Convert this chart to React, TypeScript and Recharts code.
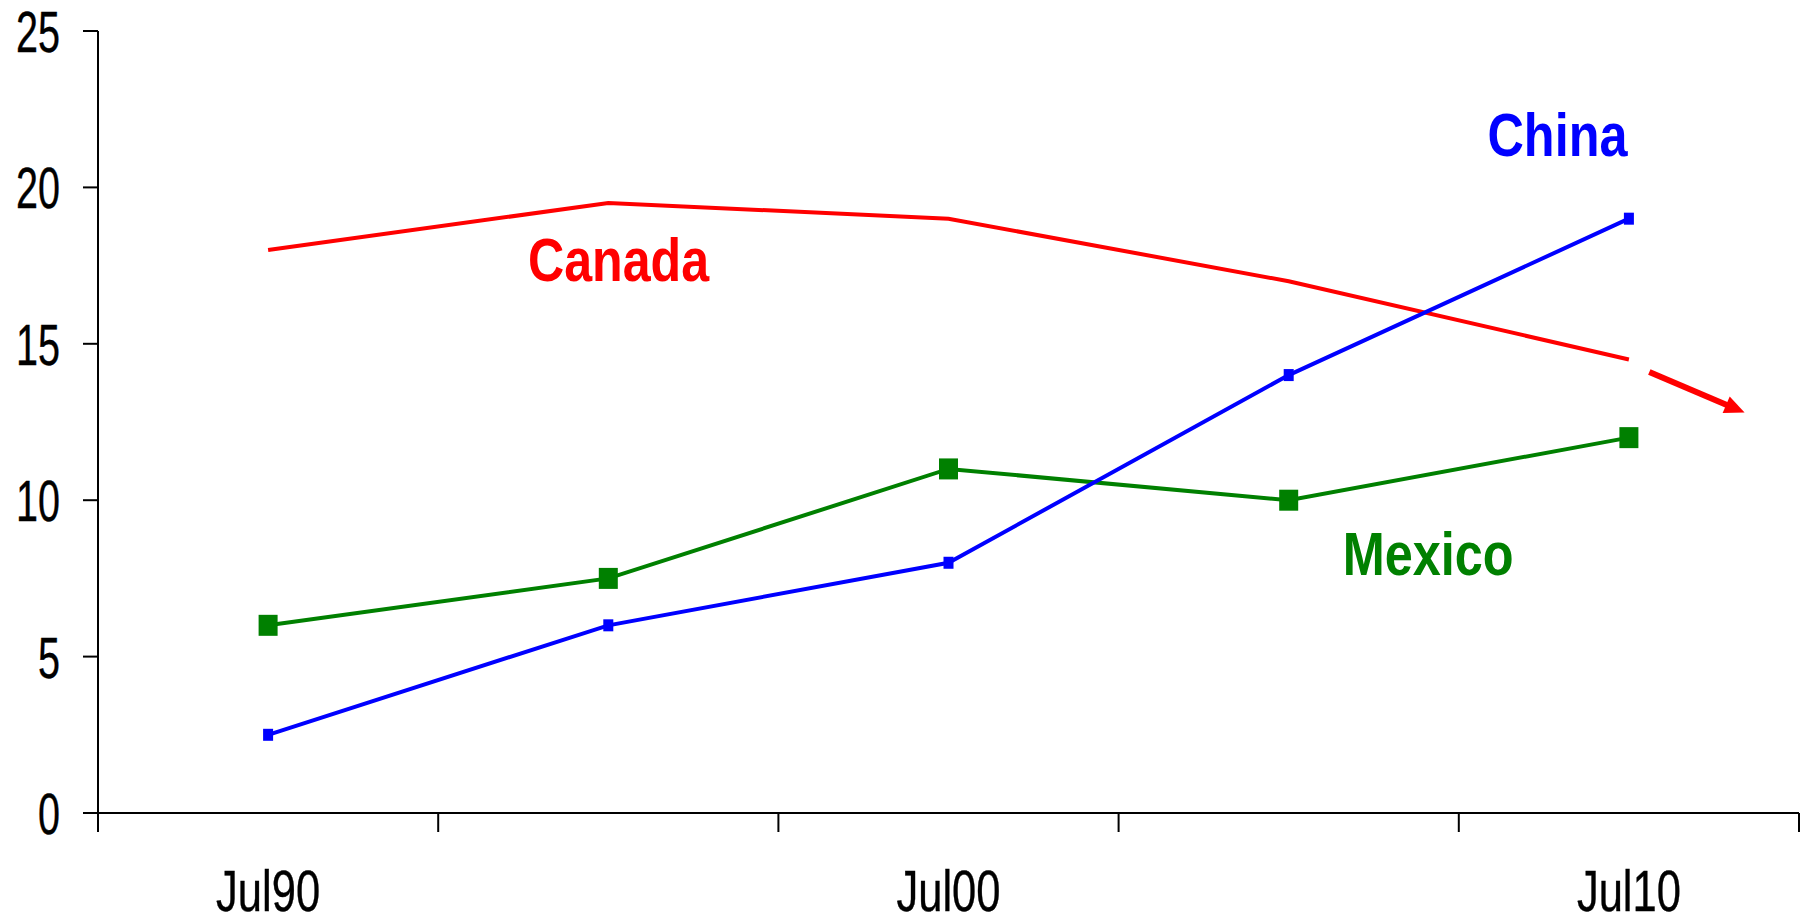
import { LineChart, Line, XAxis, YAxis, ReferenceDot, ReferenceLine } from "recharts";

// Import share by country, sampled every five years
const periods = ["Jul90", "Jul95", "Jul00", "Jul05", "Jul10"];
const canada = [18, 19.5, 19, 17, 14.5];
const china = [2.5, 6, 8, 14, 19];
const mexico = [6, 7.5, 11, 10, 12];

const yTicks = [0, 5, 10, 15, 20, 25];
const shownPeriods = ["Jul90", "Jul00", "Jul10"];

// Canada's projected decline, drawn as an arrow past the last point
const canadaTrendStart = { x: 4.06, y: 14.1 };
const canadaTrendEnd = { x: 4.34, y: 12.8 };

const RED = "#ff0000";
const BLUE = "#0000ff";
const GREEN = "#008000";
const TICK_FONT = "'Liberation Sans Narrow', 'Liberation Sans', Arial, sans-serif";
const LABEL_FONT = "'Liberation Sans', Arial, sans-serif";

const data = periods.map((p, i) => ({
  idx: i,
  period: p,
  canada: canada[i],
  china: china[i],
  mexico: mexico[i],
}));

// boundaries between periods get tick marks, the labelled periods get text
const boundaries = periods.map((_, i) => i - 0.5).concat(periods.length - 0.5);
const labelIdx = shownPeriods.map((p) => periods.indexOf(p));
const xTicks = [...boundaries, ...labelIdx].sort((a, b) => a - b);

const seriesLabels = [
  { text: "China", x: 3.79, y: 21.7, color: BLUE, width: 140 },
  { text: "Canada", x: 1.03, y: 17.7, color: RED, width: 181 },
  { text: "Mexico", x: 3.41, y: 8.3, color: GREEN, width: 171 },
];

function XTick(props: any) {
  const { x, y, payload } = props;
  const v = payload.value;
  if (!Number.isInteger(v)) {
    return <line x1={x} x2={x} y1={y} y2={y + 19} stroke="#000" strokeWidth={2} />;
  }
  const label = periods[v];
  return (
    <text
      x={x}
      y={y + 98}
      textAnchor="middle"
      fontFamily={TICK_FONT}
      fontSize={57}
      fill="#000"
      stroke="#000"
      strokeWidth={0.4}
      textLength={104}
      lengthAdjust="spacingAndGlyphs"
    >
      {label}
    </text>
  );
}

function YTick(props: any) {
  const { x, y, payload } = props;
  const s = String(payload.value);
  return (
    <g>
      <line x1={x - 15} x2={x} y1={y} y2={y} stroke="#000" strokeWidth={2} />
      <text
        x={x - 38}
        y={y + 21}
        textAnchor="end"
        fontFamily={TICK_FONT}
        fontSize={58}
        fill="#000"
        stroke="#000"
        strokeWidth={0.4}
        textLength={22 * s.length}
        lengthAdjust="spacingAndGlyphs"
      >
        {s}
      </text>
    </g>
  );
}

const squareDot = (w: number, h: number, color: string) => (p: any) => (
  <rect key={`d-${p.index}`} x={p.cx - w / 2} y={p.cy - h / 2} width={w} height={h} fill={color} />
);

function TrendArrow(p: any) {
  const { x1, y1, x2, y2 } = p;
  const dx = x2 - x1;
  const dy = y2 - y1;
  const len = Math.sqrt(dx * dx + dy * dy);
  const ux = dx / len;
  const uy = dy / len;
  const head = 20;
  const half = 9;
  const bx = x2 - ux * head;
  const by = y2 - uy * head;
  return (
    <g>
      <line x1={x1} y1={y1} x2={bx + ux * 2} y2={by + uy * 2} stroke={RED} strokeWidth={6} />
      <polygon
        points={`${x2},${y2} ${bx - uy * half},${by + ux * half} ${bx + uy * half},${by - ux * half}`}
        fill={RED}
      />
    </g>
  );
}

export default function App() {
  return (
    <div style={{ position: "absolute", left: 0, top: 0, background: "#fff" }}>
      <LineChart width={1808} height={921} data={data} margin={{ top: 31, right: 9, bottom: 0, left: 0 }}>
        <XAxis
          type="number"
          dataKey="idx"
          domain={[-0.5, periods.length - 0.5]}
          ticks={xTicks}
          interval={0}
          height={108}
          tickSize={0}
          tickMargin={0}
          tickLine={false}
          axisLine={{ stroke: "#000", strokeWidth: 2 }}
          tick={<XTick />}
        />
        <YAxis
          type="number"
          domain={[0, 25]}
          ticks={yTicks}
          interval={0}
          width={98}
          tickSize={0}
          tickMargin={0}
          tickLine={false}
          axisLine={{ stroke: "#000", strokeWidth: 2 }}
          tick={<YTick />}
        />
        <Line
          type="linear"
          dataKey="canada"
          stroke={RED}
          strokeWidth={4}
          dot={false}
          activeDot={false}
          isAnimationActive={false}
        />
        <Line
          type="linear"
          dataKey="mexico"
          stroke={GREEN}
          strokeWidth={4}
          dot={squareDot(19, 21, GREEN)}
          activeDot={false}
          isAnimationActive={false}
        />
        <Line
          type="linear"
          dataKey="china"
          stroke={BLUE}
          strokeWidth={4}
          dot={squareDot(10, 12, BLUE)}
          activeDot={false}
          isAnimationActive={false}
        />
        <ReferenceLine segment={[canadaTrendStart, canadaTrendEnd]} shape={TrendArrow} />
        {seriesLabels.map((l) => (
          <ReferenceDot
            key={l.text}
            x={l.x}
            y={l.y}
            r={0}
            shape={(p: any) => (
              <text
                x={p.cx}
                y={p.cy + 22}
                textAnchor="middle"
                fontFamily={LABEL_FONT}
                fontWeight="bold"
                fontSize={62}
                fill={l.color}
                textLength={l.width}
                lengthAdjust="spacingAndGlyphs"
              >
                {l.text}
              </text>
            )}
          />
        ))}
      </LineChart>
    </div>
  );
}
